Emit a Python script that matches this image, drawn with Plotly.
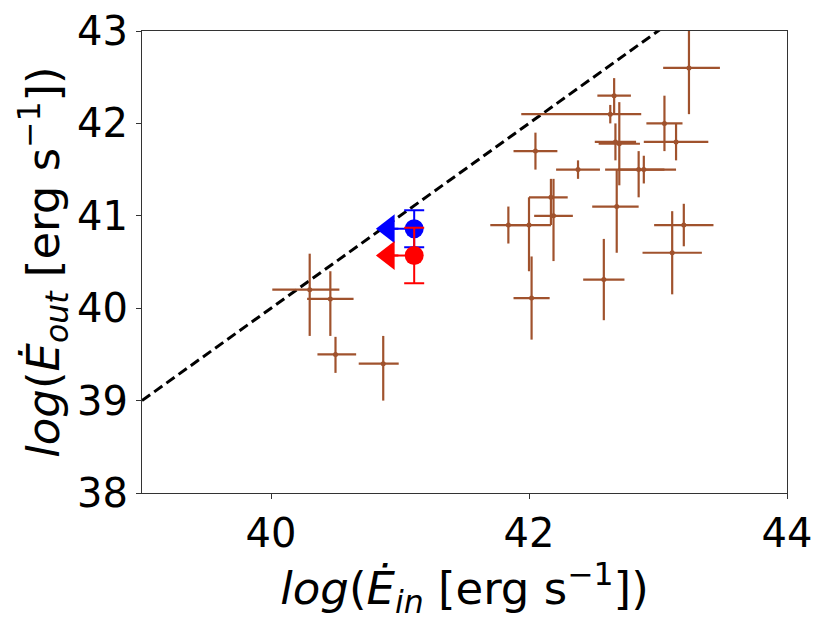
"""Energy injection vs outflow power, with two upper-limit sources."""

import plotly.graph_objects as go

# brown sample: log E_in, log E_out and their (minus, plus) errors
e_in = [40.30, 40.46, 40.50, 40.87, 43.24, 42.66, 42.63, 42.67, 42.70, 42.68,
        42.85, 42.89, 42.38, 43.05, 43.14, 42.05, 41.84, 42.00, 42.17, 42.19,
        42.02, 42.58, 43.20, 43.11]
e_out = [40.20, 40.10, 39.50, 39.40, 42.60, 42.30, 42.10, 41.80, 41.78, 41.10,
         41.50, 41.50, 41.50, 42.00, 41.80, 41.70, 40.90, 40.90, 41.20, 41.00,
         40.11, 40.31, 40.90, 40.60]
e_in_err_minus = [0.29, 0.18, 0.14, 0.19, 0.20, 0.13, 0.69, 0.16, 0.16, 0.19,
                  0.26, 0.20, 0.17, 0.14, 0.25, 0.17, 0.14, 0.17, 0.17, 0.15,
                  0.14, 0.16, 0.23, 0.23]
e_in_err_plus = [0.23, 0.18, 0.16, 0.12, 0.24, 0.13, 0.24, 0.16, 0.16, 0.17,
                 0.20, 0.25, 0.17, 0.14, 0.25, 0.17, 0.16, 0.17, 0.13, 0.15,
                 0.14, 0.16, 0.23, 0.23]
e_out_err_minus = [0.50, 0.40, 0.20, 0.40, 0.50, 0.19, 0.10, 0.20, 0.45, 0.50,
                   0.30, 0.15, 0.10, 0.30, 0.20, 0.20, 0.20, 0.50, 0.30, 0.49,
                   0.45, 0.44, 0.23, 0.45]
e_out_err_plus = [0.39, 0.30, 0.19, 0.30, 0.50, 0.19, 0.10, 0.20, 0.45, 0.40,
                  0.20, 0.15, 0.10, 0.30, 0.20, 0.20, 0.20, 0.30, 0.20, 0.40,
                  0.45, 0.44, 0.23, 0.45]

# the two sources with upper limits on E_in
limit_in = [41.11, 41.11]
limit_out = [40.86, 40.57]
limit_in_err = [0.2, 0.2]
limit_out_err = [0.2, 0.3]
limit_colors = ["blue", "red"]

# 1:1 line
one_to_one = [39, 44]

BROWN = "sienna"
FONT = "DejaVu Sans"

fig = go.Figure()

fig.add_trace(go.Scatter(
    x=one_to_one, y=one_to_one, mode="lines",
    line=dict(color="black", width=3, dash="10px,5px"),
    hoverinfo="skip",
))

fig.add_trace(go.Scatter(
    x=e_in, y=e_out, mode="markers",
    marker=dict(color=BROWN, size=5, opacity=1, line=dict(width=0)),
    error_x=dict(type="data", symmetric=False, array=e_in_err_plus,
                 arrayminus=e_in_err_minus, color=BROWN, thickness=2.2, width=0),
    error_y=dict(type="data", symmetric=False, array=e_out_err_plus,
                 arrayminus=e_out_err_minus, color=BROWN, thickness=2.2, width=0),
))

for x, y, xe, ye, c in zip(limit_in, limit_out, limit_in_err, limit_out_err,
                           limit_colors):
    # arrow shaft and head pointing to lower E_in
    fig.add_trace(go.Scatter(
        x=[x, x - xe], y=[y, y], mode="lines+markers",
        line=dict(color=c, width=2),
        marker=dict(symbol=["circle", "triangle-left"], size=[19, 25], color=c,
                    opacity=1, line=dict(width=0)),
        error_y=dict(type="data", array=[ye, 0], arrayminus=[ye, 0],
                     symmetric=False, color=c, thickness=2, width=10),
    ))

axis_common = dict(
    showgrid=False, zeroline=False, showline=True, mirror=True,
    linecolor="#333333", linewidth=1, ticks="outside", ticklen=5,
    tickwidth=1, tickcolor="#333333", automargin=False,
    tickfont=dict(family=FONT, size=40, color="black"),
)

# the page body adds ~8px of margin, so the plot box is nudged up/left
fig.update_layout(
    width=830, height=623, autosize=False,
    margin=dict(l=134, r=51, t=23, b=138),
    paper_bgcolor="white", plot_bgcolor="white",
    showlegend=False,
    font=dict(family=FONT, color="black"),
    xaxis=dict(
        range=[39, 44], dtick=2, tick0=40,
        title=dict(text="<i>log</i>(<i>Ė</i><sub><i>in</i></sub> [erg s<sup>−1</sup>])",
                   font=dict(family=FONT, size=45), standoff=4),
        **axis_common,
    ),
    yaxis=dict(
        range=[38, 43], dtick=1,
        title=dict(text="<i>log</i>(<i>Ė</i><sub><i>out</i></sub> [erg s<sup>−1</sup>])",
                   font=dict(family=FONT, size=45), standoff=3),
        **axis_common,
    ),
)

fig.write_html("out.html")
